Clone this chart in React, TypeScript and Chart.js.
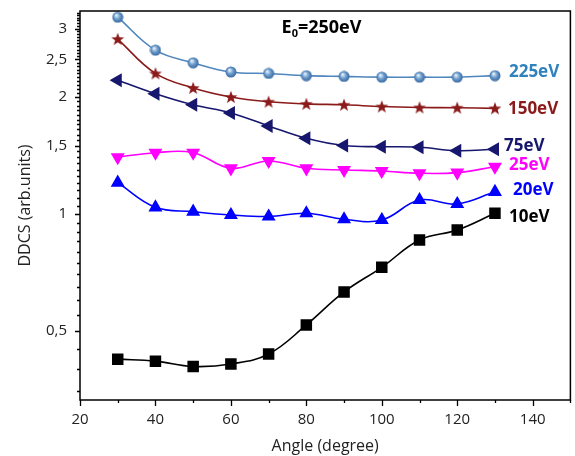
import React, { useEffect, useRef } from "react";
import { Chart, registerables } from "chart.js";

Chart.register(...registerables);

const angles = [30, 40, 50, 60, 70, 80, 90, 100, 110, 120, 130];
const ddcs225 = [3.21, 2.64, 2.45, 2.32, 2.3, 2.27, 2.26, 2.25, 2.25, 2.25, 2.27];
const ddcs150 = [2.82, 2.3, 2.11, 2.0, 1.945, 1.92, 1.91, 1.89, 1.88, 1.877, 1.87];
const ddcs75 = [2.21, 2.04, 1.91, 1.82, 1.685, 1.566, 1.5, 1.49, 1.485, 1.455, 1.468];
const ddcs25 = [1.4, 1.438, 1.438, 1.311, 1.369, 1.311, 1.298, 1.29, 1.273, 1.278, 1.323];
const ddcs20 = [1.204, 1.04, 1.014, 0.994, 0.985, 1.004, 0.969, 0.965, 1.086, 1.061, 1.14];
const ddcs10 = [0.423, 0.418, 0.405, 0.411, 0.436, 0.518, 0.63, 0.729, 0.857, 0.909, 1.004];

const seriesLabels = ["225eV", "150eV", "75eV", "25eV", "20eV", "10eV"];
const yMajorTicks = [0.5, 1, 1.5, 2, 2.5, 3];
const yMin = 0.332;
const yMax = 3.33;
const xMin = 20;
const xMax = 150;

const FONT = '"Open Sans", sans-serif';

function makeSphere(): HTMLCanvasElement {
  const c = document.createElement("canvas");
  c.width = 12;
  c.height = 12;
  const g = c.getContext("2d")!;
  const grad = g.createRadialGradient(4.5, 4, 0.5, 6, 6, 6);
  grad.addColorStop(0, "#e6f0fa");
  grad.addColorStop(0.45, "#6f9fcf");
  grad.addColorStop(1, "#2f5f96");
  g.fillStyle = grad;
  g.beginPath();
  g.arc(6, 6, 5.5, 0, Math.PI * 2);
  g.fill();
  return c;
}

function makeStar(color: string): HTMLCanvasElement {
  const c = document.createElement("canvas");
  c.width = 14;
  c.height = 14;
  const g = c.getContext("2d")!;
  g.fillStyle = color;
  g.beginPath();
  for (let i = 0; i < 10; i++) {
    const r = i % 2 === 0 ? 6.8 : 2.8;
    const a = -Math.PI / 2 + (i * Math.PI) / 5;
    const px = 7 + r * Math.cos(a);
    const py = 7.5 + r * Math.sin(a);
    if (i === 0) g.moveTo(px, py);
    else g.lineTo(px, py);
  }
  g.closePath();
  g.fill();
  return c;
}

const labelStyle = [
  { color: "#2f82bd", dx: 14, dy: -3 },
  { color: "#8b1a1a", dx: 13, dy: 1 },
  { color: "#17176e", dx: 9, dy: -3 },
  { color: "#ff00ff", dx: 14, dy: -2 },
  { color: "#0000ff", dx: 18, dy: -2 },
  { color: "#000000", dx: 14, dy: 4 },
];

const decor = {
  id: "decor",
  afterDraw(chart: any) {
    const { ctx, chartArea: a, scales } = chart;
    const xs = scales.x;
    const ys = scales.y;
    ctx.save();
    // frame
    ctx.strokeStyle = "#000";
    ctx.lineWidth = 1.5;
    ctx.strokeRect(a.left, a.top, a.right - a.left, a.bottom - a.top);
    // tick marks
    ctx.lineWidth = 1.3;
    ctx.beginPath();
    ys.ticks.forEach((t: any) => {
      const p = Math.round(ys.getPixelForValue(t.value)) + 0.5;
      const major = Math.abs(t.value * 2 - Math.round(t.value * 2)) < 1e-6;
      const len = major ? 5 : 3;
      ctx.moveTo(a.left - len, p);
      ctx.lineTo(a.left, p);
    });
    xs.ticks.forEach((t: any) => {
      const p = Math.round(xs.getPixelForValue(t.value)) + 0.5;
      const major = t.value % 20 === 0;
      const len = major ? 6 : 3;
      ctx.moveTo(p, a.bottom);
      ctx.lineTo(p, a.bottom + len);
    });
    ctx.stroke();

    // axis titles
    ctx.fillStyle = "#222";
    ctx.font = `16px ${FONT}`;
    ctx.textAlign = "center";
    ctx.textBaseline = "middle";
    ctx.fillText("Angle (degree)", (a.left + a.right) / 2, 446);
    ctx.save();
    ctx.translate(25, (a.top + a.bottom) / 2);
    ctx.rotate(-Math.PI / 2);
    ctx.fillText("DDCS (arb.units)", 0, 0);
    ctx.restore();

    // panel title E0=250eV
    const tx = a.left + (a.right - a.left) * 0.411;
    const ty = a.top + (a.bottom - a.top) * 0.044;
    ctx.textAlign = "left";
    ctx.fillStyle = "#000";
    ctx.font = `bold 18px ${FONT}`;
    ctx.fillText("E", tx, ty);
    let w = ctx.measureText("E").width;
    ctx.font = `bold 11px ${FONT}`;
    ctx.fillText("0", tx + w, ty + 6);
    w += ctx.measureText("0").width;
    ctx.font = `bold 18px ${FONT}`;
    ctx.fillText("=250eV", tx + w, ty);

    // series labels
    chart.data.datasets.forEach((ds: any, i: number) => {
      const meta = chart.getDatasetMeta(i);
      const last = meta.data[meta.data.length - 1];
      const st = labelStyle[i];
      ctx.fillStyle = st.color;
      ctx.font = `bold 17px ${FONT}`;
      ctx.fillText(seriesLabels[i], last.x + st.dx, last.y + st.dy);
    });
    ctx.restore();
  },
};

const zeroPad = (s: any) => {
  s.paddingTop = 0;
  s.paddingBottom = 0;
  s.paddingLeft = 0;
  s.paddingRight = 0;
};

export default function App() {
  const ref = useRef<HTMLCanvasElement | null>(null);

  useEffect(() => {
    if (!ref.current) return;
    const toPts = (vals: number[]) => angles.map((x, i) => ({ x, y: vals[i] }));
    const sphere = makeSphere();
    const star = makeStar("#8b1a1a");

    const yTickVals: number[] = [];
    for (let k = 7; k * 0.05 <= yMax + 1e-9; k++) yTickVals.push(Math.round(k * 5) / 100);

    const base = {
      tension: 0.4,
      borderWidth: 1.6,
      fill: false,
    };

    const chart = new Chart(ref.current, {
      type: "line",
      data: {
        datasets: [
          {
            ...base,
            label: seriesLabels[0],
            data: toPts(ddcs225),
            borderColor: "#4f86bd",
            backgroundColor: "#4f86bd",
            pointStyle: sphere as any,
            pointRadius: 6,
          },
          {
            ...base,
            label: seriesLabels[1],
            data: toPts(ddcs150),
            borderColor: "#8b1a1a",
            backgroundColor: "#8b1a1a",
            pointStyle: star as any,
            pointRadius: 7,
          },
          {
            ...base,
            label: seriesLabels[2],
            data: toPts(ddcs75),
            borderColor: "#17176e",
            backgroundColor: "#17176e",
            pointStyle: "triangle",
            rotation: -90,
            pointRadius: 6.5,
          },
          {
            ...base,
            label: seriesLabels[3],
            data: toPts(ddcs25),
            borderColor: "#ff00ff",
            backgroundColor: "#ff00ff",
            pointStyle: "triangle",
            rotation: 180,
            pointRadius: 6.5,
          },
          {
            ...base,
            label: seriesLabels[4],
            data: toPts(ddcs20),
            borderColor: "#0000ff",
            backgroundColor: "#0000ff",
            pointStyle: "triangle",
            rotation: 0,
            pointRadius: 6.5,
          },
          {
            ...base,
            label: seriesLabels[5],
            data: toPts(ddcs10),
            borderColor: "#000000",
            backgroundColor: "#000000",
            pointStyle: "rect",
            pointRadius: 7,
          },
        ],
      },
      options: {
        animation: false,
        responsive: false,
        devicePixelRatio: 1,
        layout: { padding: { top: 11, right: 0, left: 0, bottom: 0 } },
        plugins: {
          legend: { display: false },
          tooltip: { enabled: false },
        },
        elements: { point: { borderWidth: 0 } },
        scales: {
          x: {
            type: "linear",
            min: xMin,
            max: xMax,
            afterFit: (s: any) => {
              s.height = 56;
              zeroPad(s);
            },
            border: { display: false },
            grid: { display: false, drawTicks: true, tickLength: 6 },
            ticks: {
              stepSize: 10,
              autoSkip: false,
              maxRotation: 0,
              padding: 5,
              color: "#222",
              font: { family: FONT, size: 15 },
              callback: (v: any) => (Number(v) % 20 === 0 && Number(v) <= 140 ? String(v) : ""),
            },
          },
          y: {
            type: "logarithmic",
            min: yMin,
            max: yMax,
            bounds: "data",
            afterFit: (s: any) => {
              s.width = 80;
              zeroPad(s);
            },
            afterBuildTicks: (s: any) => {
              s.min = yMin;
              s.max = yMax;
              s.ticks = yTickVals.filter((v) => v >= yMin && v <= yMax).map((v) => ({ value: v }));
            },
            border: { display: false },
            grid: { display: false, drawTicks: true, tickLength: 5 },
            ticks: {
              autoSkip: false,
              padding: 8,
              color: "#222",
              font: { family: FONT, size: 15 },
              callback: (v: any) => {
                const n = Number(v);
                const m = yMajorTicks.find((t) => Math.abs(t - n) < 1e-6);
                return m === undefined ? "" : String(m).replace(".", ",");
              },
            },
          },
        },
      },
      plugins: [decor],
    } as any);
    return () => chart.destroy();
  }, []);

  return (
    <div
      style={{
        position: "absolute",
        left: 0,
        top: 0,
        width: 575,
        height: 456,
        overflow: "hidden",
        background: "#fff",
      }}
    >
      <canvas ref={ref} width={579} height={456} style={{ display: "block" }} />
    </div>
  );
}
